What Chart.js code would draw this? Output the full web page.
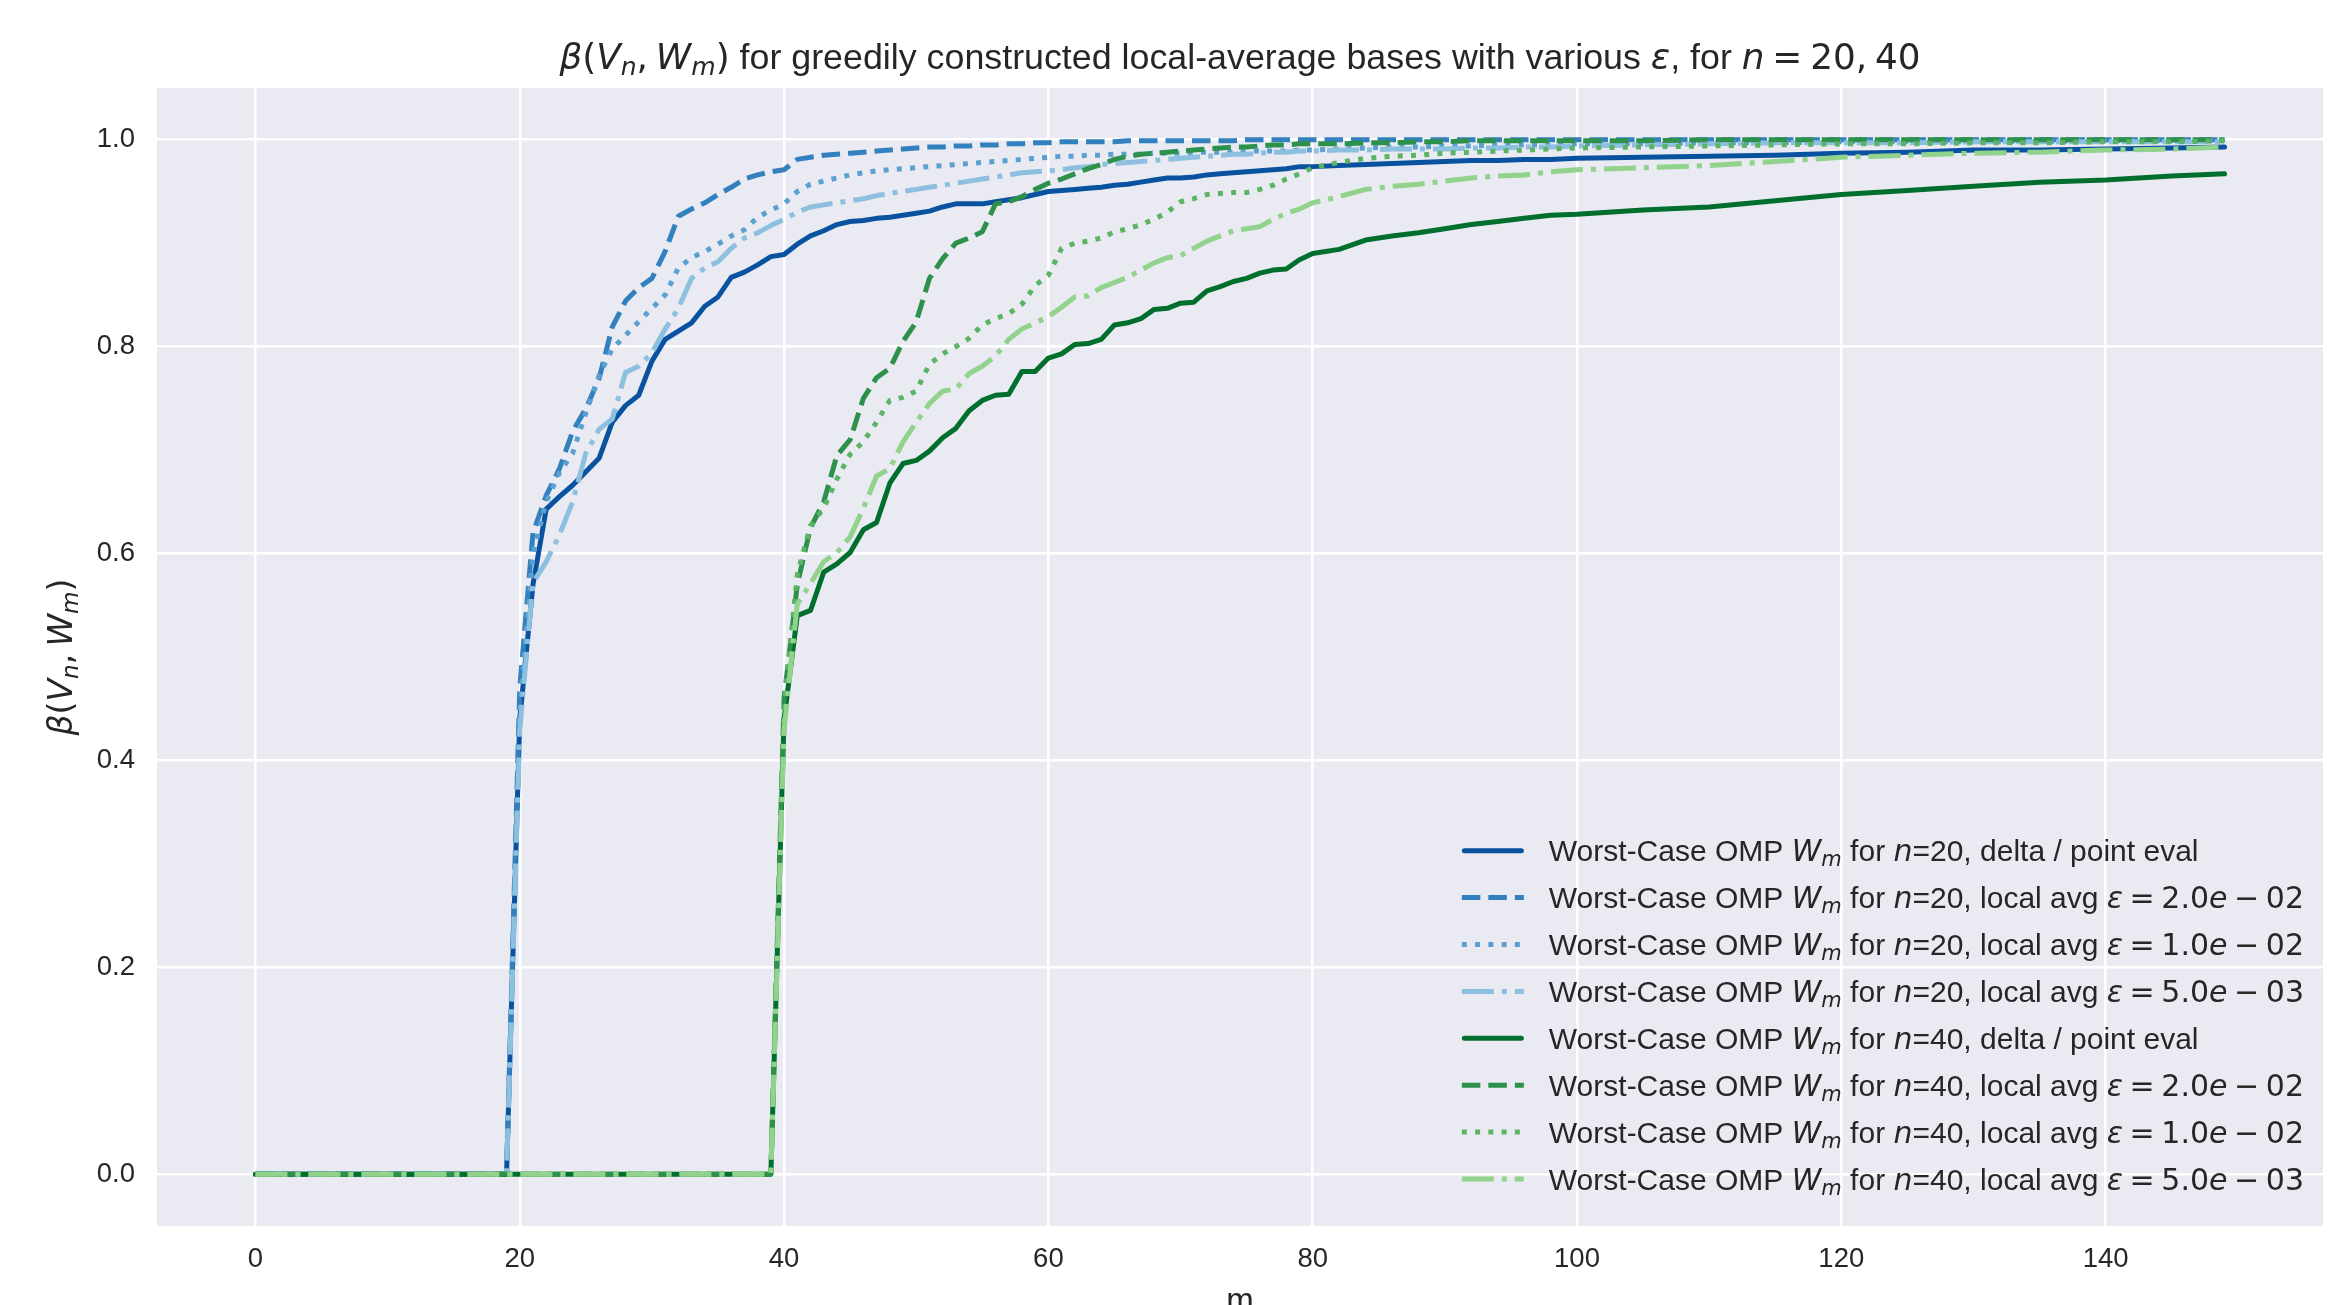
<!DOCTYPE html>
<html>
<head>
<meta charset="utf-8"/>
<script src="https://cdn.jsdelivr.net/npm/chart.js@4.4.0/dist/chart.umd.min.js"></script>
<style>
body { margin: 0; background: #ffffff; }
#chart { display: block; }
</style>
</head>
<body>
<canvas id="chart" width="2338" height="1305"></canvas>
<script>
// m values (sampled every step through the rise, coarser on the plateau)
var mValues = [
  0, 19, 20, 21, 22, 23, 24, 25, 26, 27,
  28, 29, 30, 31, 32, 33, 34, 35, 36, 37,
  38, 39, 40, 41, 42, 43, 44, 45, 46, 47,
  48, 49, 50, 51, 52, 53, 54, 55, 56, 57,
  58, 59, 60, 61, 62, 63, 64, 65, 66, 67,
  68, 69, 70, 71, 72, 73, 74, 75, 76, 77,
  78, 79, 80, 82, 84, 86, 88, 90, 92, 94,
  96, 98, 100, 105, 110, 115, 120, 125, 130, 135,
  140, 145, 149
];

// n = 20
var n20Delta = [
  0, 0, 0.44, 0.57, 0.643, 0.655, 0.666, 0.679, 0.692, 0.727,
  0.743, 0.753, 0.786, 0.807, 0.815, 0.823, 0.839, 0.848, 0.867, 0.872,
  0.879, 0.887, 0.889, 0.899, 0.907, 0.912, 0.918, 0.921, 0.922, 0.924,
  0.925, 0.927, 0.929, 0.931, 0.935, 0.938, 0.938, 0.938, 0.940, 0.942,
  0.944, 0.947, 0.950, 0.951, 0.952, 0.953, 0.954, 0.956, 0.957, 0.959,
  0.961, 0.963, 0.963, 0.964, 0.966, 0.967, 0.968, 0.969, 0.970, 0.971,
  0.972, 0.974, 0.974, 0.975, 0.976, 0.977, 0.978, 0.979, 0.980, 0.980,
  0.981, 0.981, 0.982, 0.983, 0.984, 0.985, 0.987, 0.988, 0.990, 0.990,
  0.991, 0.992, 0.993
];
var n20Eps2 = [
  0, 0, 0.47, 0.62, 0.656, 0.682, 0.718, 0.740, 0.769, 0.819,
  0.844, 0.857, 0.866, 0.892, 0.926, 0.933, 0.939, 0.947, 0.954, 0.962,
  0.966, 0.969, 0.971, 0.981, 0.983, 0.985, 0.986, 0.987, 0.988, 0.989,
  0.990, 0.991, 0.992, 0.993, 0.993, 0.994, 0.994, 0.995, 0.995, 0.996,
  0.996, 0.997, 0.997, 0.998, 0.998, 0.998, 0.998, 0.998, 0.999, 0.999,
  0.999, 0.999, 0.999, 0.999, 0.999, 0.999, 0.999, 1.0, 1.0, 1.0,
  1.0, 1.0, 1.0, 1.0, 1.0, 1.0, 1.0, 1.0, 1.0, 1.0,
  1.0, 1.0, 1.0, 1.0, 1.0, 1.0, 1.0, 1.0, 1.0, 1.0,
  1.0, 1.0, 1.0
];
var n20Eps1 = [
  0, 0, 0.45, 0.60, 0.650, 0.678, 0.697, 0.736, 0.772, 0.798,
  0.811, 0.824, 0.837, 0.850, 0.876, 0.886, 0.892, 0.899, 0.907, 0.913,
  0.925, 0.932, 0.938, 0.950, 0.957, 0.960, 0.963, 0.966, 0.968, 0.970,
  0.971, 0.972, 0.973, 0.974, 0.975, 0.976, 0.977, 0.978, 0.979, 0.980,
  0.981, 0.982, 0.983, 0.984, 0.984, 0.985, 0.985, 0.986, 0.986, 0.986,
  0.987, 0.987, 0.987, 0.988, 0.988, 0.988, 0.988, 0.989, 0.989, 0.989,
  0.989, 0.990, 0.990, 0.991, 0.992, 0.993, 0.993, 0.994, 0.994, 0.995,
  0.995, 0.995, 0.996, 0.996, 0.997, 0.997, 0.998, 0.998, 0.998, 0.998,
  0.999, 0.999, 0.999
];
var n20Eps05 = [
  0, 0, 0.43, 0.572, 0.592, 0.618, 0.650, 0.697, 0.720, 0.730,
  0.775, 0.781, 0.794, 0.817, 0.837, 0.866, 0.876, 0.882, 0.895, 0.905,
  0.910, 0.917, 0.923, 0.930, 0.935, 0.937, 0.939, 0.941, 0.943, 0.946,
  0.948, 0.950, 0.952, 0.954, 0.956, 0.958, 0.960, 0.962, 0.964, 0.966,
  0.968, 0.969, 0.970, 0.971, 0.973, 0.974, 0.976, 0.977, 0.978, 0.979,
  0.980, 0.981, 0.982, 0.983, 0.984, 0.985, 0.986, 0.986, 0.987, 0.988,
  0.988, 0.989, 0.989, 0.990, 0.990, 0.991, 0.991, 0.991, 0.992, 0.992,
  0.993, 0.993, 0.994, 0.995, 0.996, 0.997, 0.997, 0.997, 0.998, 0.998,
  0.998, 0.998, 0.998
];

// n = 40
var n40Delta = [
  0, 0, 0, 0, 0, 0, 0, 0, 0, 0,
  0, 0, 0, 0, 0, 0, 0, 0, 0, 0,
  0, 0, 0.44, 0.540, 0.545, 0.582, 0.590, 0.601, 0.623, 0.630,
  0.668, 0.687, 0.690, 0.699, 0.712, 0.721, 0.738, 0.748, 0.753, 0.754,
  0.776, 0.776, 0.789, 0.793, 0.802, 0.803, 0.807, 0.821, 0.823, 0.827,
  0.836, 0.837, 0.842, 0.843, 0.854, 0.858, 0.863, 0.866, 0.871, 0.874,
  0.875, 0.884, 0.890, 0.894, 0.903, 0.907, 0.910, 0.914, 0.918, 0.921,
  0.924, 0.927, 0.928, 0.932, 0.935, 0.941, 0.947, 0.951, 0.955, 0.959,
  0.961, 0.965, 0.967
];
var n40Eps2 = [
  0, 0, 0, 0, 0, 0, 0, 0, 0, 0,
  0, 0, 0, 0, 0, 0, 0, 0, 0, 0,
  0, 0, 0.46, 0.57, 0.625, 0.650, 0.695, 0.710, 0.750, 0.770,
  0.779, 0.805, 0.824, 0.866, 0.885, 0.900, 0.905, 0.911, 0.938, 0.940,
  0.945, 0.952, 0.958, 0.962, 0.967, 0.972, 0.976, 0.981, 0.984, 0.986,
  0.987, 0.988, 0.989, 0.990, 0.991, 0.992, 0.993, 0.993, 0.994, 0.995,
  0.995, 0.996, 0.996, 0.996, 0.997, 0.997, 0.998, 0.998, 0.999, 0.999,
  0.999, 0.999, 0.999, 0.999, 1.0, 1.0, 1.0, 1.0, 1.0, 1.0,
  1.0, 1.0, 1.0
];
var n40Eps1 = [
  0, 0, 0, 0, 0, 0, 0, 0, 0, 0,
  0, 0, 0, 0, 0, 0, 0, 0, 0, 0,
  0, 0, 0.45, 0.58, 0.627, 0.644, 0.672, 0.696, 0.708, 0.727,
  0.748, 0.751, 0.757, 0.783, 0.793, 0.800, 0.808, 0.821, 0.827, 0.832,
  0.841, 0.859, 0.869, 0.895, 0.900, 0.902, 0.905, 0.911, 0.914, 0.918,
  0.923, 0.930, 0.940, 0.943, 0.947, 0.948, 0.949, 0.949, 0.952, 0.956,
  0.962, 0.967, 0.973, 0.978, 0.982, 0.984, 0.985, 0.987, 0.988, 0.989,
  0.990, 0.991, 0.992, 0.993, 0.994, 0.995, 0.996, 0.996, 0.997, 0.997,
  0.998, 0.998, 0.999
];
var n40Eps05 = [
  0, 0, 0, 0, 0, 0, 0, 0, 0, 0,
  0, 0, 0, 0, 0, 0, 0, 0, 0, 0,
  0, 0, 0.43, 0.551, 0.571, 0.592, 0.601, 0.616, 0.644, 0.675,
  0.682, 0.708, 0.727, 0.745, 0.757, 0.759, 0.774, 0.781, 0.791, 0.807,
  0.817, 0.823, 0.829, 0.838, 0.848, 0.849, 0.857, 0.862, 0.867, 0.874,
  0.881, 0.886, 0.888, 0.895, 0.902, 0.907, 0.912, 0.914, 0.916, 0.923,
  0.929, 0.933, 0.939, 0.945, 0.952, 0.955, 0.957, 0.960, 0.963, 0.965,
  0.966, 0.969, 0.971, 0.973, 0.975, 0.979, 0.983, 0.985, 0.987, 0.988,
  0.990, 0.991, 0.993
];

var seriesLabels = [
  'Worst-Case OMP $W_m$ for $n$=20, delta / point eval',
  'Worst-Case OMP $W_m$ for $n$=20, local avg $ε = 2.0e − 02$',
  'Worst-Case OMP $W_m$ for $n$=20, local avg $ε = 1.0e − 02$',
  'Worst-Case OMP $W_m$ for $n$=20, local avg $ε = 5.0e − 03$',
  'Worst-Case OMP $W_m$ for $n$=40, delta / point eval',
  'Worst-Case OMP $W_m$ for $n$=40, local avg $ε = 2.0e − 02$',
  'Worst-Case OMP $W_m$ for $n$=40, local avg $ε = 1.0e − 02$',
  'Worst-Case OMP $W_m$ for $n$=40, local avg $ε = 5.0e − 03$'
];
var seriesValues = [n20Delta, n20Eps2, n20Eps1, n20Eps05, n40Delta, n40Eps2, n40Eps1, n40Eps05];
var xTickValues = [0, 20, 40, 60, 80, 100, 120, 140];
var yTickValues = [0.0, 0.2, 0.4, 0.6, 0.8, 1.0];

var titleText = '$β(V_n, W_m)$ for greedily constructed local-average bases with various $ε$, for $n = 20, 40$';
var yLabelText = '$β(V_n, W_m)$';
var xLabelText = 'm';

// styles
var LW = 5;
var DASH = {
  solid: [],
  dashed: [3.7 * LW, 1.6 * LW],
  dotted: [1 * LW, 1.65 * LW],
  dashdot: [6.4 * LW, 1.6 * LW, 1 * LW, 1.6 * LW]
};
var seriesStyles = [
  {color: '#0852a0', dash: 'solid'},
  {color: '#3280bd', dash: 'dashed'},
  {color: '#5ca0d2', dash: 'dotted'},
  {color: '#8cc0de', dash: 'dashdot'},
  {color: '#006e2d', dash: 'solid'},
  {color: '#2d914b', dash: 'dashed'},
  {color: '#5ab464', dash: 'dotted'},
  {color: '#91d28c', dash: 'dashdot'}
];

var TEXT_FONT = '"Liberation Sans", Arial, sans-serif';
var MATH_FONT = '"DejaVu Sans", sans-serif';
var INK = '#262626';

// tiny mathtext: $...$ -> italic letters, upright digits, _x subscripts, narrow spaces
function parseRich(str) {
  var runs = [], inMath = false, buf = '';
  function flush() { if (buf) { runs.push({t: buf, f: 'rm'}); buf = ''; } }
  for (var i = 0; i < str.length; i++) {
    var c = str[i];
    if (c === '$') { flush(); inMath = !inMath; continue; }
    if (!inMath) { buf += c; continue; }
    if (c === '_') { i++; runs.push({t: str[i], f: 'sub'}); continue; }
    if (c === ' ') { runs.push({t: '', f: 'sp'}); continue; }
    runs.push({t: c, f: /[A-Za-zα-ω]/.test(c) ? 'mi' : 'mr'});
  }
  flush();
  return runs;
}
function runFont(r, size) {
  if (r.f === 'rm') return size + 'px ' + TEXT_FONT;
  if (r.f === 'mi') return 'italic ' + size + 'px ' + MATH_FONT;
  if (r.f === 'sub') return 'italic ' + (size * 0.7) + 'px ' + MATH_FONT;
  return size + 'px ' + MATH_FONT;
}
function runWidth(ctx, r, size) {
  if (r.f === 'sp') return 0.22 * size;
  ctx.font = runFont(r, size);
  return ctx.measureText(r.t).width;
}
function measureRich(ctx, str, size) {
  var w = 0;
  parseRich(str).forEach(function(r) { w += runWidth(ctx, r, size); });
  return w;
}
function drawRich(ctx, str, x, y, size, align) {
  var runs = parseRich(str);
  var w = measureRich(ctx, str, size);
  var cx = align === 'center' ? x - w / 2 : x;
  ctx.textAlign = 'left';
  ctx.textBaseline = 'alphabetic';
  runs.forEach(function(r) {
    var rw = runWidth(ctx, r, size);
    if (r.t) ctx.fillText(r.t, cx, r.f === 'sub' ? y + size * 0.17 : y);
    cx += rw;
  });
}

var decor = {
  id: 'decor',
  beforeDraw: function(chart) {
    var ctx = chart.ctx, a = chart.chartArea;
    ctx.save();
    ctx.fillStyle = '#ffffff';
    ctx.fillRect(0, 0, chart.width, chart.height);
    ctx.fillStyle = '#eaeaf2';
    ctx.fillRect(a.left, a.top, a.right - a.left, a.bottom - a.top);
    ctx.restore();
  },
  afterDraw: function(chart) {
    var ctx = chart.ctx, a = chart.chartArea;
    var midX = (a.left + a.right) / 2;
    ctx.save();
    ctx.fillStyle = INK;

    // title and axis labels
    drawRich(ctx, titleText, midX, a.top - 19, 35.8, 'center');
    drawRich(ctx, xLabelText, midX, a.bottom + 85, 33, 'center');
    ctx.save();
    ctx.translate(72, (a.top + a.bottom) / 2);
    ctx.rotate(-Math.PI / 2);
    drawRich(ctx, yLabelText, 0, 0, 33, 'center');
    ctx.restore();

    // legend, lower right, no frame
    var fs = 30, rowH = 46.9;
    var maxW = 0;
    seriesLabels.forEach(function(l) { maxW = Math.max(maxW, measureRich(ctx, l, fs)); });
    var textX = a.right - 19 - maxW;
    var h1 = textX - 25, h0 = h1 - 62;
    var n = seriesLabels.length;
    for (var i = 0; i < n; i++) {
      var yc = a.bottom - 47 - (n - 1 - i) * rowH;
      var st = seriesStyles[i];
      ctx.save();
      ctx.strokeStyle = st.color;
      ctx.lineWidth = LW;
      ctx.setLineDash(DASH[st.dash]);
      ctx.lineCap = st.dash === 'solid' ? 'round' : 'butt';
      ctx.beginPath();
      ctx.moveTo(st.dash === 'solid' ? h0 + 2.5 : h0, yc);
      ctx.lineTo(st.dash === 'solid' ? h1 - 2.5 : h1, yc);
      ctx.stroke();
      ctx.restore();
      ctx.fillStyle = INK;
      drawRich(ctx, seriesLabels[i], textX, yc + 10.5, fs, 'left');
    }
    ctx.restore();
  }
};

var datasets = seriesValues.map(function(vals, i) {
  var st = seriesStyles[i];
  return {
    label: seriesLabels[i],
    data: mValues.map(function(m, k) { return {x: m, y: vals[k]}; }),
    borderColor: st.color,
    backgroundColor: st.color,
    borderWidth: LW,
    borderDash: DASH[st.dash],
    borderCapStyle: st.dash === 'solid' ? 'round' : 'butt',
    borderJoinStyle: 'round',
    pointRadius: 0,
    tension: 0,
    fill: false,
    order: seriesValues.length - i
  };
});

var tickFont = {family: TEXT_FONT, size: 27.5};

new Chart(document.getElementById('chart'), {
  type: 'line',
  data: {datasets: datasets},
  options: {
    responsive: false,
    animation: false,
    devicePixelRatio: 1,
    layout: {padding: {left: 0, right: 15, top: 88, bottom: 0}},
    plugins: {legend: {display: false}, title: {display: false}, tooltip: {enabled: false}},
    scales: {
      x: {
        type: 'linear', min: -7.45, max: 156.45,
        afterBuildTicks: function(s) { s.ticks = xTickValues.map(function(v) { return {value: v}; }); },
        ticks: {padding: 17, color: INK, font: tickFont, maxRotation: 0,
                callback: function(v) { return String(v); }},
        grid: {color: '#ffffff', lineWidth: 2.5, drawTicks: false},
        border: {display: false},
        afterFit: function(s) { s.height = 79; }
      },
      y: {
        type: 'linear', min: -0.05, max: 1.05,
        afterBuildTicks: function(s) { s.ticks = yTickValues.map(function(v) { return {value: v}; }); },
        ticks: {padding: 22, color: INK, font: tickFont,
                callback: function(v) { return v.toFixed(1); }},
        grid: {color: '#ffffff', lineWidth: 2.5, drawTicks: false},
        border: {display: false},
        afterFit: function(s) { s.width = 157; }
      }
    }
  },
  plugins: [decor]
});
</script>
</body>
</html>
